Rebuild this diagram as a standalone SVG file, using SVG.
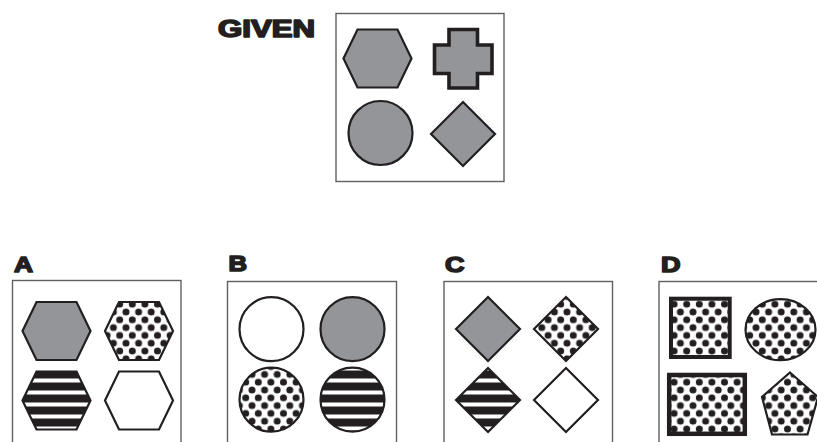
<svg xmlns="http://www.w3.org/2000/svg" width="817" height="442" viewBox="0 0 817 442">
<style>
.frame{fill:none;stroke:#5f6062;stroke-width:1.4}
.lbl{font-family:"Liberation Sans",Arial,sans-serif;font-weight:bold;fill:#231f20;stroke:#231f20;stroke-width:1.6;stroke-linejoin:round}
.sh{stroke:#231f20;stroke-width:2.2;stroke-linejoin:miter}
.gray{fill:#939598}
.white{fill:#ffffff}
.dots{fill:url(#dots)}
.stripes{fill:url(#stripes)}
</style>
<defs>
<pattern id="dots" patternUnits="userSpaceOnUse" width="12.6" height="15.6">
<rect width="12.6" height="15.6" fill="#fff"/>
<g fill="#231f20">
<circle cx="0" cy="0" r="3.5"/><circle cx="12.6" cy="0" r="3.5"/>
<circle cx="0" cy="15.6" r="3.5"/><circle cx="12.6" cy="15.6" r="3.5"/>
<circle cx="6.3" cy="7.8" r="3.5"/>
</g>
</pattern>
<pattern id="stripes" patternUnits="userSpaceOnUse" width="20" height="12">
<rect width="20" height="12" fill="#231f20"/>
<rect y="6.5" width="20" height="4" fill="#fff"/>
</pattern>
</defs>
<rect width="817" height="442" fill="#fff"/>

<g id="given">
<text class="lbl" x="218" y="37" font-size="23" textLength="97" lengthAdjust="spacingAndGlyphs">GIVEN</text>
<rect class="frame" x="336" y="13.5" width="168" height="168"/>
<g id="given-hexagon"><polygon class="sh gray" points="343.5,58.5 357.5,29.5 397.5,29.5 411.5,58.5 397.5,87.5 357.5,87.5"/></g>
<g id="given-cross"><path class="gray" stroke="#231f20" stroke-width="3.6" d="M449,29.5 H477.5 V45 H492 V73.5 H477.5 V88 H449 V73.5 H434.5 V45 H449 Z"/></g>
<g id="given-circle"><circle class="sh gray" cx="380.5" cy="133" r="32"/></g>
<g id="given-diamond"><polygon class="sh gray" points="431,134 463,102 495,134 463,166"/></g>
</g>

<g id="option-a">
<text class="lbl" x="14" y="271.5" font-size="22" textLength="19" lengthAdjust="spacingAndGlyphs">A</text>
<rect class="frame" x="12.5" y="280.5" width="168.5" height="200"/>
<g id="a-hex-gray"><polygon class="sh gray" points="22.5,331 36.5,302 76.5,302 90.5,331 76.5,360 36.5,360"/></g>
<g id="a-hex-dots"><polygon class="sh dots" points="105,331 119,302 159,302 173,331 159,360 119,360"/></g>
<g id="a-hex-stripes"><polygon class="sh stripes" points="22.5,400.5 36.5,371.5 76.5,371.5 90.5,400.5 76.5,429.5 36.5,429.5"/></g>
<g id="a-hex-white"><polygon class="sh white" points="105,400.5 119,371.5 159,371.5 173,400.5 159,429.5 119,429.5"/></g>
</g>

<g id="option-b">
<text class="lbl" x="228.5" y="271" font-size="22" textLength="18.5" lengthAdjust="spacingAndGlyphs">B</text>
<rect class="frame" x="227.5" y="281.5" width="169" height="200"/>
<g id="b-circle-white"><circle class="sh white" cx="271.5" cy="329.2" r="32"/></g>
<g id="b-circle-gray"><circle class="sh gray" cx="352.5" cy="329.2" r="32"/></g>
<g id="b-circle-dots"><circle class="sh dots" cx="271.5" cy="399.7" r="32"/></g>
<g id="b-circle-stripes"><circle class="sh stripes" cx="352.5" cy="399.7" r="32"/></g>
</g>

<g id="option-c">
<text class="lbl" x="445" y="271.5" font-size="22" textLength="19.5" lengthAdjust="spacingAndGlyphs">C</text>
<rect class="frame" x="444" y="281.5" width="168.5" height="200"/>
<g id="c-diamond-gray"><polygon class="sh gray" points="456,329 488,297 520,329 488,361"/></g>
<g id="c-diamond-dots"><polygon class="sh dots" points="534,329 566,297 598,329 566,361"/></g>
<g id="c-diamond-stripes"><polygon class="sh stripes" points="456,400 488,368 520,400 488,432"/></g>
<g id="c-diamond-white"><polygon class="sh white" points="534,400 566,368 598,400 566,432"/></g>
</g>

<g id="option-d">
<text class="lbl" x="661" y="271.5" font-size="22" textLength="19.5" lengthAdjust="spacingAndGlyphs">D</text>
<rect class="frame" x="659" y="281.5" width="200" height="200"/>
<g id="d-square"><rect class="dots" stroke="#231f20" stroke-width="4" x="671" y="298.7" width="58.7" height="58.3"/></g>
<g id="d-ellipse"><ellipse class="sh dots" cx="780.5" cy="329.7" rx="35" ry="30.5"/></g>
<g id="d-rect"><rect class="dots" stroke="#231f20" stroke-width="4.5" x="669.2" y="375" width="75.6" height="58.8"/></g>
<g id="d-pentagon"><polygon class="sh dots" points="790,372.5 818,397 807.5,434.5 772,434.5 762,397"/></g>
</g>
</svg>
